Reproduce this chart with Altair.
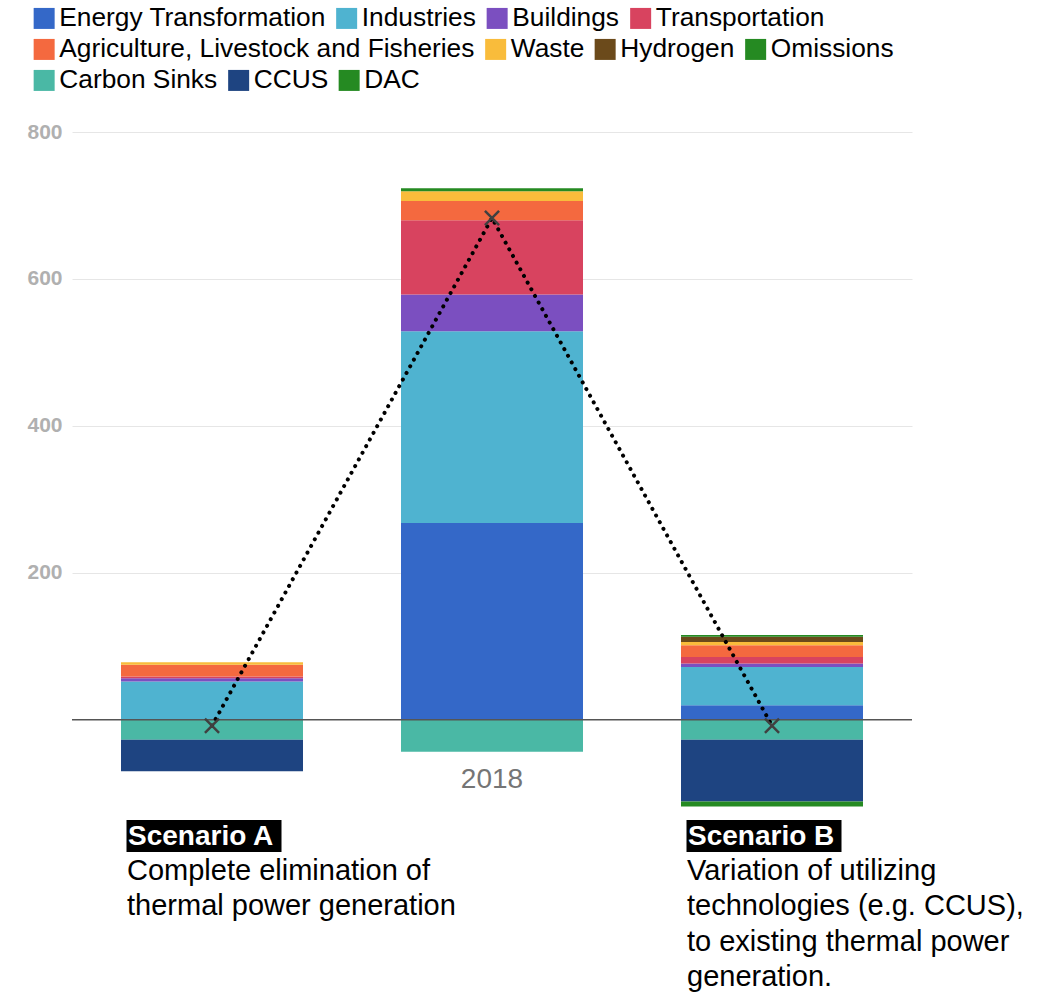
import altair as alt
import pandas as pd

categories = ["Scenario A", "2018", "Scenario B"]
sectors = ["Energy Transformation", "Industries", "Buildings", "Transportation",
           "Agriculture, Livestock and Fisheries", "Waste", "Hydrogen", "Omissions",
           "Carbon Sinks", "CCUS", "DAC"]
colors = ["#3468c8", "#4fb3d0", "#7b4fc0", "#d8435f", "#f4693f", "#f9bc3b",
          "#6b4a1b", "#258a22", "#4ab8a5", "#1e4481", "#258a22"]
legend_rows = [sectors[0:4], sectors[4:8], sectors[8:11]]

energy = [0, 268, 20]
industries = [52, 261, 52]
buildings = [4.5, 50, 4.5]
transportation = [2.5, 101, 9]
agriculture = [16, 26, 16]
waste = [3.5, 13.5, 4.5]
hydrogen = [0, 0, 7]
omissions = [0, 4, 2.3]
carbon_sinks = [-27, -43.5, -27]
ccus = [-43, 0, -84]
dac = [0, 0, -7]
net = [-8, 683, -8]

series = [energy, industries, buildings, transportation, agriculture, waste,
          hydrogen, omissions, carbon_sinks, ccus, dac]

rows = []
for i, (s, vals) in enumerate(zip(sectors, series)):
    for c, v in zip(categories, vals):
        if v != 0:
            rows.append({"cat": c, "sector": s, "value": v, "order": i})
df = pd.DataFrame(rows)
net_df = pd.DataFrame({"cat": categories, "net": net})

ann_cats = ["Scenario A", "Scenario B"]
ann_headers = ["Scenario A", "Scenario B"]
ann_bodies = ["Complete elimination of\nthermal power generation",
              "Variation of utilizing\ntechnologies (e.g. CCUS),\nto existing thermal power\ngeneration."]
ann_df = pd.DataFrame({"cat": ann_cats, "header": ann_headers, "body": ann_bodies})
axis_label_df = pd.DataFrame({"cat": ["2018"], "label": ["2018"]})

FONT = "Liberation Sans"
xscale = alt.Scale(domain=categories, paddingInner=0.35, paddingOuter=0.175)
yscale = alt.Scale(domain=[-120, 800], nice=False)

x_enc = alt.X("cat:N", scale=xscale, axis=None, sort=categories)

bars = alt.Chart(df).mark_bar().encode(
    x=x_enc,
    y=alt.Y("value:Q", scale=yscale, stack="zero",
            axis=alt.Axis(values=[200, 400, 600, 800], grid=True, gridColor="#e6e6e6",
                          domain=False, ticks=False, labelPadding=10, labelFontSize=21,
                          labelFontWeight="bold", labelColor="#b0b0b0", labelFont=FONT,
                          title=None)),
    color=alt.Color("sector:N", scale=alt.Scale(domain=sectors, range=colors), legend=None),
    order=alt.Order("order:Q", sort="ascending"),
)

# one legend per row, so entries flow like the original
legend_layers = []
for r, row_names in enumerate(legend_rows):
    row_colors = [colors[sectors.index(n)] for n in row_names]
    row_df = df[df["sector"].isin(row_names)]
    legend_layers.append(
        alt.Chart(row_df).mark_square(size=0, opacity=1, filled=True).encode(
            x=x_enc,
            y=alt.Y("value:Q", scale=yscale),
            color=alt.Color("sector:N", scale=alt.Scale(domain=row_names, range=row_colors),
                            legend=alt.Legend(orient="none", legendX=-41, legendY=-127 + 31 * r,
                                              direction="horizontal", title=None,
                                              symbolType="square", symbolSize=441,
                                              symbolStrokeWidth=0, symbolOpacity=1,
                                              labelFont=FONT, labelFontSize=26.3,
                                              labelColor="black", labelLimit=800,
                                              labelOffset=2, columnPadding=7.5)),
        )
    )

zero = alt.Chart(pd.DataFrame({"z": [0]})).mark_rule(color="#555555", strokeWidth=1.5).encode(
    y=alt.Y("z:Q", scale=yscale)
)

line = alt.Chart(net_df).mark_line(color="black", strokeWidth=4, strokeDash=[0.1, 7.5],
                                   strokeCap="round").encode(
    x=x_enc, y=alt.Y("net:Q", scale=yscale)
)

marks = alt.Chart(net_df).mark_point(shape="M-1,-1L1,1M1,-1L-1,1", size=200, filled=False,
                                     stroke="#404040", strokeWidth=2.5, opacity=1).encode(
    x=x_enc, y=alt.Y("net:Q", scale=yscale)
)

xlabel = alt.Chart(axis_label_df).mark_text(fontSize=28, color="#757575", font=FONT,
                                            baseline="middle").encode(
    x=x_enc, y=alt.value(648), text="label:N"
)

boxes = alt.Chart(ann_df).mark_bar(width=155, xOffset=-8, color="black").encode(
    x=x_enc, y=alt.value(688), y2=alt.value(720)
)

headers = alt.Chart(ann_df).mark_text(align="left", baseline="middle", fontSize=28,
                                      fontWeight="bold", color="white", font=FONT, dx=7).encode(
    x=alt.X("cat:N", scale=xscale, axis=None, sort=categories, bandPosition=0),
    y=alt.value(705), text="header:N"
)

bodies = alt.Chart(ann_df).mark_text(align="left", baseline="top", fontSize=29, lineHeight=35.3,
                                     lineBreak="\n", color="black", font=FONT, dx=6).encode(
    x=alt.X("cat:N", scale=xscale, axis=None, sort=categories, bandPosition=0),
    y=alt.value(725), text="body:N"
)

chart = alt.layer(bars, *legend_layers, zero, line, marks, xlabel, boxes, headers, bodies).resolve_scale(
    color="independent"
).properties(
    width=840, height=676,
    autosize=alt.AutoSizeParams(type="none"),
    padding={"left": 72, "top": 132, "right": 136, "bottom": 184},
).configure_view(stroke=None)

chart.save("out.html", embed_options={"renderer": "svg", "actions": False})
